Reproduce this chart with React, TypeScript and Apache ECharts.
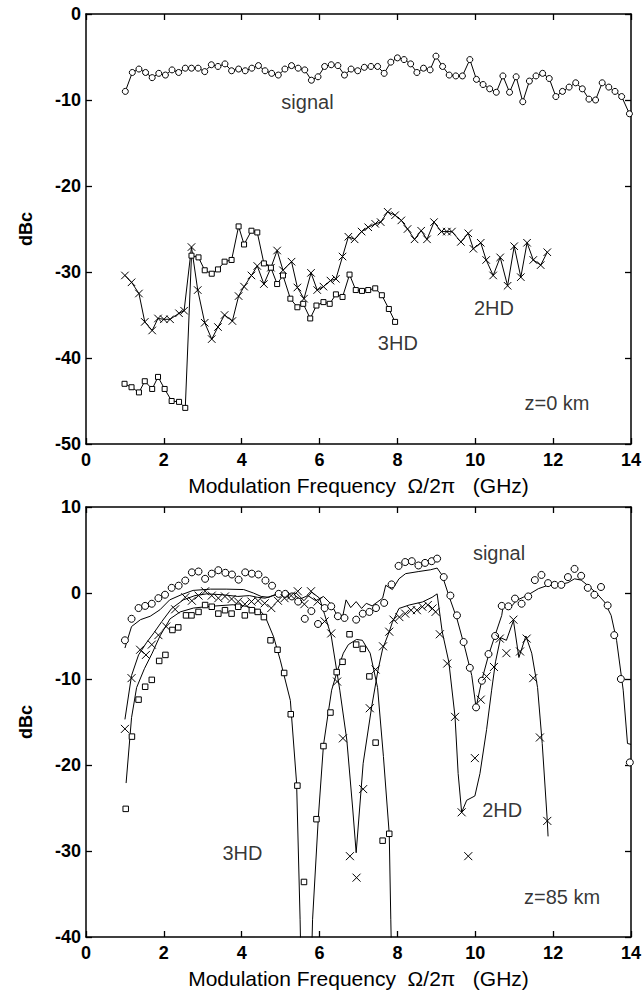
import React, { useEffect, useRef } from "react";
import * as echarts from "echarts";

// ---------- Top panel (z = 0 km) ----------
const topSigX = [1.01,1.19,1.36,1.53,1.70,1.87,2.04,2.21,2.38,2.55,2.71,2.88,3.05,3.22,3.39,3.57,3.74,3.92,4.09,4.26,4.43,4.60,4.77,4.94,5.11,5.28,5.45,5.62,5.79,5.96,6.13,6.30,6.47,6.64,6.81,6.98,7.15,7.32,7.49,7.66,7.83,8.00,8.17,8.34,8.50,8.67,8.84,8.99,9.16,9.33,9.50,9.67,9.86,10.03,10.20,10.37,10.54,10.71,10.88,11.05,11.22,11.39,11.56,11.73,11.90,12.07,12.24,12.41,12.58,12.75,12.92,13.09,13.26,13.43,13.59,13.76,13.96];
const topSigY = [-9.0,-6.8,-6.4,-6.8,-7.4,-6.9,-7.1,-6.5,-6.8,-6.3,-6.3,-6.3,-6.7,-5.9,-6.1,-5.8,-6.6,-6.4,-6.6,-6.3,-6.0,-6.6,-6.9,-7.1,-6.4,-6.0,-6.3,-6.5,-7.7,-7.3,-6.1,-5.9,-6.0,-7.1,-6.4,-6.6,-6.2,-6.1,-6.1,-6.9,-5.6,-5.1,-5.3,-5.8,-6.8,-6.3,-6.5,-4.9,-6.1,-7.1,-7.2,-7.2,-5.3,-7.6,-8.2,-8.7,-9.1,-7.2,-9.1,-7.3,-10.2,-7.8,-7.2,-6.9,-7.5,-9.6,-9.0,-8.5,-8.0,-8.7,-9.9,-10.0,-8.0,-8.5,-9.0,-9.6,-11.6];

const top2HDX = [1.00,1.17,1.36,1.51,1.70,1.85,2.00,2.16,2.39,2.52,2.71,2.87,3.05,3.23,3.39,3.56,3.76,3.92,4.06,4.25,4.40,4.57,4.75,4.91,5.06,5.28,5.43,5.60,5.78,5.94,6.10,6.28,6.42,6.59,6.74,6.90,7.08,7.25,7.43,7.57,7.75,7.94,8.10,8.26,8.44,8.61,8.76,8.94,9.13,9.27,9.40,9.63,9.82,9.95,10.14,10.28,10.46,10.64,10.83,11.00,11.17,11.33,11.49,11.68,11.85];
const top2HDY = [-30.4,-31.2,-32.5,-35.8,-36.8,-35.4,-35.5,-35.5,-34.8,-34.5,-27.1,-32.1,-35.9,-37.8,-36.4,-35.0,-35.7,-32.8,-31.7,-30.4,-29.3,-31.4,-29.5,-27.5,-29.8,-28.8,-31.8,-33.1,-30.1,-32.1,-31.7,-31.0,-30.8,-28.2,-25.9,-26.2,-25.3,-24.8,-24.4,-24.2,-23.0,-23.4,-24.0,-25.0,-26.2,-25.2,-26.2,-24.2,-25.3,-25.3,-25.3,-26.5,-25.5,-27.3,-26.6,-28.6,-30.4,-28.3,-31.6,-27.0,-30.6,-26.6,-28.6,-29.2,-27.7];

const top3HDX = [0.99,1.17,1.36,1.51,1.70,1.85,2.02,2.20,2.39,2.55,2.71,2.89,3.05,3.23,3.39,3.56,3.74,3.92,4.06,4.25,4.40,4.57,4.75,4.91,5.06,5.25,5.43,5.58,5.76,5.92,6.10,6.26,6.42,6.59,6.77,6.93,7.09,7.25,7.43,7.60,7.78,7.94];
const top3HDY = [-43.0,-43.4,-44.0,-42.7,-43.6,-42.2,-43.6,-45.0,-45.1,-45.8,-28.1,-28.3,-29.8,-30.2,-29.7,-28.8,-28.6,-24.7,-26.8,-25.2,-25.4,-29.0,-29.5,-31.4,-30.4,-33.1,-34.1,-33.7,-35.4,-33.9,-33.5,-33.7,-32.6,-32.9,-30.3,-32.1,-32.2,-32.1,-31.9,-32.7,-34.3,-35.8];

const topNoteText = ["signal", "3HD", "2HD", "z=0 km"];
const topNoteX = [5.69, 8.01, 10.48, 12.10];
const topNoteY = [-10.2, -38.3, -34.2, -45.2];

// ---------- Bottom panel (z = 85 km) ----------
const botSigX = [1.00,1.17,1.35,1.52,1.69,1.86,2.03,2.20,2.38,2.55,2.72,2.89,3.06,3.23,3.40,3.58,3.75,3.92,4.09,4.26,4.43,4.61,4.78,4.95,5.12,5.29,5.45,5.62,5.79,5.96,6.13,6.30,6.47,6.64,6.94,7.11,7.28,7.45,7.66,7.85,8.03,8.20,8.37,8.54,8.71,8.88,9.02,9.19,9.36,9.53,9.70,9.86,10.02,10.17,10.34,10.51,10.68,10.85,11.02,11.19,11.36,11.53,11.70,11.87,12.04,12.21,12.38,12.55,12.72,12.89,13.06,13.23,13.40,13.57,13.74,13.97];
const botSigY = [-5.5,-3.0,-1.75,-1.5,-1.25,-0.6,-0.2,0.6,0.85,1.45,2.4,2.5,1.65,2.25,2.65,2.35,2.15,1.55,2.4,2.25,2.15,1.45,0.85,-0.1,-0.1,-0.4,-1.0,-3.0,-2.1,-3.6,-1.75,-1.55,-2.7,-2.9,-3.1,-2.4,-2.2,-1.75,-1.15,1.0,3.15,3.6,3.7,3.2,3.5,3.7,4.0,1.85,-0.3,-2.6,-5.7,-8.7,-13.3,-10.2,-7.1,-5.0,-1.5,-1.55,-0.65,-1.25,-0.4,1.5,2.1,1.15,0.95,0.95,1.85,2.8,2.0,0.6,-0.2,0.7,-1.45,-4.9,-10.0,-19.7];
const botSigFitX = [1.0,1.17,1.4,1.65,1.9,2.15,2.45,2.75,3.2,3.6,4.05,4.3,4.5,4.7,4.9,5.1,5.3,5.5,5.7,5.9,6.1,6.3,6.45,6.6,6.68,6.8,6.94,7.08,7.2,7.35,7.5,7.62,7.7,7.87,8.04,8.21,8.55,8.85,9.02,9.15,9.32,9.53,9.74,9.91,10.02,10.17,10.34,10.51,10.68,10.72,10.94,11.06,11.23,11.4,11.62,11.87,12.13,12.38,12.55,12.72,12.94,13.15,13.32,13.49,13.63,13.80,13.91,14.0];
const botSigFitY = [-6.4,-3.9,-3.1,-2.7,-1.95,-0.8,-0.2,0.3,0.45,0.45,0.4,0.0,-0.4,-0.5,-0.1,-0.4,-0.1,-0.7,-0.3,-0.9,-0.4,-1.3,-2.6,-2.6,-0.8,-1.7,-1.0,-1.8,-1.2,-1.5,-1.0,-0.6,0.9,0.4,1.65,2.25,2.5,2.7,2.9,2.05,-0.3,-3.0,-6.5,-9.6,-13.3,-10.1,-7.25,-4.9,-2.6,-1.4,-1.5,-0.85,-0.5,-0.1,0.5,0.9,0.95,1.2,1.65,1.5,0.7,-0.2,-1.05,-2.6,-5.5,-11.3,-17.5,-17.6];

const bot2HDX = [1.00,1.17,1.39,1.54,1.69,1.86,2.06,2.29,2.55,2.72,2.89,3.06,3.23,3.40,3.57,3.74,3.91,4.08,4.25,4.42,4.59,4.76,4.93,5.10,5.27,5.44,5.61,5.78,5.95,6.13,6.30,6.45,6.60,6.78,6.95,7.12,7.29,7.44,7.63,7.79,7.90,8.05,8.20,8.35,8.50,8.64,8.78,8.90,8.98,9.09,9.28,9.48,9.65,9.82,9.99,10.14,10.29,10.48,10.63,10.80,10.98,11.15,11.32,11.49,11.66,11.85];
const bot2HDY = [-15.8,-9.9,-6.6,-7.2,-6.0,-4.9,-3.9,-1.9,-0.5,-0.9,-0.3,0.2,-0.3,-0.6,-0.4,-0.7,-1.0,-1.3,-1.0,-0.9,-1.2,-1.75,-0.9,-0.6,-0.3,0.2,-1.3,0.2,-1.0,-3.3,-4.7,-10.3,-16.9,-30.6,-33.1,-22.8,-13.4,-8.9,-6.2,-4.5,-3.1,-2.8,-2.4,-2.0,-2.0,-1.6,-1.4,-1.8,-2.2,-4.8,-8.2,-14.4,-25.5,-30.6,-19.2,-12.4,-9.7,-8.6,-5.3,-7.0,-3.1,-6.8,-5.3,-9.9,-16.8,-26.5];
const bot2HDFitX = [1.0,1.17,1.35,1.55,1.75,1.95,2.2,2.5,2.8,3.1,3.5,3.9,4.2,4.4,4.6,4.8,5.0,5.2,5.4,5.6,5.8,6.0,6.13,6.3,6.52,6.70,6.85,6.94,7.12,7.34,7.5,7.62,7.79,7.87,8.04,8.3,8.64,8.89,9.02,9.15,9.32,9.48,9.56,9.65,9.78,9.99,10.12,10.29,10.42,10.52,10.65,10.8,10.98,11.12,11.3,11.45,11.6,11.72,11.85,11.87];
const bot2HDFitY = [-14.7,-9.6,-7.2,-5.8,-4.6,-3.3,-1.8,-0.8,-0.3,-0.1,-0.2,-0.4,-0.3,-0.5,-0.6,-0.3,-0.1,-0.5,0.0,-0.9,0.1,-0.6,-2.5,-5.0,-11.3,-17.1,-25.0,-30.2,-19.8,-13.2,-9.0,-6.5,-4.5,-3.4,-1.8,-1.4,-1.05,-0.5,-0.1,-4.5,-8.0,-14.4,-21.0,-25.5,-24.1,-23.6,-21.0,-15.9,-11.3,-8.0,-5.2,-5.5,-3.2,-7.5,-5.0,-7.0,-11.0,-17.5,-26.5,-28.3];

const bot3HDX = [1.02,1.18,1.35,1.52,1.69,1.88,2.04,2.22,2.37,2.57,2.71,2.89,3.06,3.23,3.40,3.57,3.74,3.91,4.08,4.26,4.41,4.57,4.74,4.92,5.09,5.26,5.43,5.60,5.92,6.10,6.28,6.44,6.59,6.77,6.94,7.11,7.28,7.44,7.62,7.79];
const bot3HDY = [-25.1,-16.7,-12.4,-10.9,-10.1,-7.9,-7.2,-4.3,-4.0,-2.6,-2.6,-2.2,-1.4,-1.6,-2.4,-2.0,-2.4,-1.6,-2.6,-2.0,-2.2,-2.8,-5.5,-6.6,-9.3,-14.1,-22.4,-33.6,-26.3,-17.8,-13.9,-9.2,-8.0,-4.8,-6.0,-6.5,-9.7,-17.4,-28.8,-28.0];
const bot3HDFitX = [1.03,1.17,1.3,1.5,1.7,1.9,2.16,2.42,2.76,3.19,3.79,4.13,4.48,4.6,4.82,4.99,5.25,5.41,5.5,5.53,5.78,5.82,5.97,6.1,6.22,6.31,6.44,6.61,6.74,6.95,7.1,7.3,7.49,7.64,7.79,7.83,7.86];
const bot3HDFitY = [-22.1,-14.5,-11.0,-8.8,-7.0,-5.0,-3.0,-2.2,-1.75,-1.55,-1.36,-1.55,-2.1,-2.7,-5.1,-7.8,-12.5,-22.1,-38.0,-45.0,-45.0,-38.0,-26.0,-17.7,-14.0,-11.3,-9.3,-7.0,-6.0,-5.4,-5.5,-7.0,-11.0,-19.0,-28.0,-38.0,-45.0];

const botNoteText = ["signal", "3HD", "2HD", "z=85 km"];
const botNoteX = [10.61, 4.02, 10.69, 12.23];
const botNoteY = [4.65, -30.2, -25.2, -35.35];

const xTicks = { min: 0, max: 14, interval: 2 };

const zip = (xs: number[], ys: number[]) => xs.map((x, i) => [x, ys[i]]);

const FONT = "'Liberation Sans', Arial, Helvetica, sans-serif";
const XPATH = "path://M0,0L10,10M10,0L0,10";
const NB = "\u00a0";
const X_NAME = `Modulation Frequency${NB}${NB}Ω/2π${NB}${NB}${NB}(GHz)`;

export default function App() {
  const ref = useRef<HTMLDivElement>(null);

  useEffect(() => {
    if (!ref.current) return;
    const chart = echarts.init(ref.current, undefined, { renderer: "svg" });

    const axisLine = { show: true, onZero: false, lineStyle: { color: "#000", width: 1.5 } };
    const axisTick = { show: true, inside: true, length: 6, lineStyle: { color: "#000", width: 1.3 } };
    const tickLabel = { color: "#000", fontSize: 18, fontWeight: "bold" as const, fontFamily: FONT };

    const mkX = (gridIndex: number, bottom: boolean) => ({
      type: "value" as const,
      gridIndex,
      position: bottom ? "bottom" : "top",
      min: xTicks.min,
      max: xTicks.max,
      interval: xTicks.interval,
      axisLine,
      axisTick,
      splitLine: { show: false },
      axisLabel: bottom ? { ...tickLabel, margin: 7 } : { show: false },
      name: bottom ? X_NAME : "",
      nameLocation: "middle" as const,
      nameGap: 31,
      nameTextStyle: { color: "#000", fontSize: 21, fontFamily: FONT },
    });
    const mkY = (gridIndex: number, left: boolean, min: number, max: number) => ({
      type: "value" as const,
      gridIndex,
      position: left ? "left" : "right",
      min,
      max,
      interval: 10,
      axisLine,
      axisTick,
      splitLine: { show: false },
      axisLabel: left ? { ...tickLabel, margin: 5 } : { show: false },
      name: left ? "dBc" : "",
      nameLocation: "middle" as const,
      nameGap: 51,
      nameTextStyle: { color: "#000", fontSize: 18, fontWeight: "bold" as const, fontFamily: FONT },
    });

    // hollow markers: white fill + thin black outline
    const markerStyle = (symbol: string) => ({
      color: symbol === XPATH ? "none" : "#fff",
      borderColor: "#000",
      borderWidth: 1,
      opacity: 1,
    });

    const markerLine = (data: number[][], symbol: string, size: number, xi: number, yi: number) => ({
      type: "line" as const,
      xAxisIndex: xi,
      yAxisIndex: yi,
      data,
      symbol,
      symbolSize: size,
      showSymbol: true,
      showAllSymbol: true,
      lineStyle: { color: "#000", width: 1 },
      itemStyle: markerStyle(symbol),
      z: 3,
    });
    const scatter = (data: number[][], symbol: string, size: number, xi: number, yi: number) => ({
      type: "scatter" as const,
      xAxisIndex: xi,
      yAxisIndex: yi,
      data,
      symbol,
      symbolSize: size,
      itemStyle: markerStyle(symbol),
      z: 4,
    });
    const fit = (data: number[][], xi: number, yi: number) => ({
      type: "line" as const,
      xAxisIndex: xi,
      yAxisIndex: yi,
      data,
      symbol: "none",
      smooth: false,
      clip: true,
      lineStyle: { color: "#000", width: 1 },
      z: 2,
    });
    const notes = (texts: string[], xs: number[], ys: number[], xi: number, yi: number) => ({
      type: "scatter" as const,
      xAxisIndex: xi,
      yAxisIndex: yi,
      data: texts.map((t, i) => ({ value: [xs[i], ys[i]], name: t })),
      symbolSize: 0,
      label: {
        show: true,
        position: "inside" as const,
        formatter: (p: any) => p.name,
        color: "#000",
        textBorderWidth: 0,
        textBorderColor: "transparent",
        fontSize: 20,
        fontFamily: FONT,
      },
      z: 5,
    });

    chart.setOption({
      animation: false,
      backgroundColor: "#fff",
      grid: [
        { left: 86, top: 14, width: 545, height: 430, containLabel: false },
        { left: 86, top: 507, width: 545, height: 430, containLabel: false },
      ],
      xAxis: [mkX(0, true), mkX(0, false), mkX(1, true), mkX(1, false)],
      yAxis: [mkY(0, true, -50, 0), mkY(0, false, -50, 0), mkY(1, true, -40, 10), mkY(1, false, -40, 10)],
      series: [
        markerLine(zip(topSigX, topSigY), "circle", 6, 0, 0),
        markerLine(zip(top2HDX, top2HDY), XPATH, 7.5, 0, 0),
        markerLine(zip(top3HDX, top3HDY), "rect", 5, 0, 0),
        notes(topNoteText, topNoteX, topNoteY, 0, 0),

        fit(zip(botSigFitX, botSigFitY), 2, 2),
        fit(zip(bot2HDFitX, bot2HDFitY), 2, 2),
        fit(zip(bot3HDFitX, bot3HDFitY), 2, 2),
        scatter(zip(botSigX, botSigY), "circle", 7, 2, 2),
        scatter(zip(bot2HDX, bot2HDY), XPATH, 8, 2, 2),
        scatter(zip(bot3HDX, bot3HDY), "rect", 5.5, 2, 2),
        notes(botNoteText, botNoteX, botNoteY, 2, 2),
      ],
    });

    return () => chart.dispose();
  }, []);

  return (
    <div
      ref={ref}
      style={{ position: "fixed", left: 0, top: 0, width: 644, height: 992, background: "#fff" }}
    />
  );
}
